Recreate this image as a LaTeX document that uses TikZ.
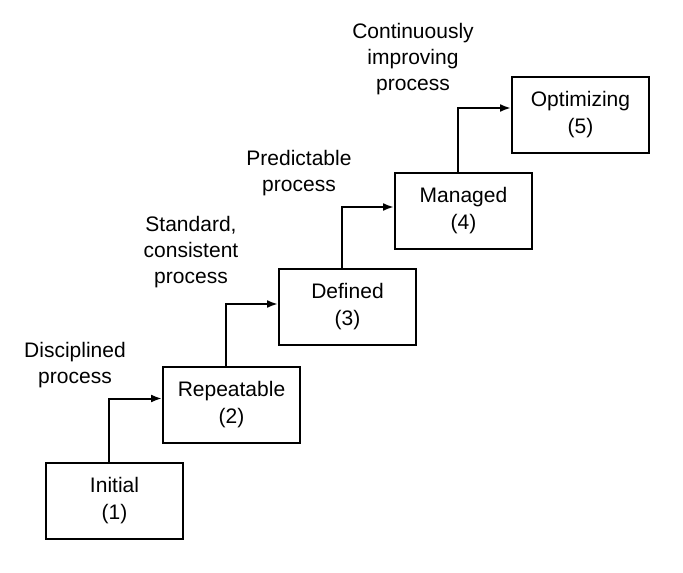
\documentclass[tikz,border=0pt]{standalone}
\usepackage{fontspec}
\setmainfont{Liberation Sans}
\usetikzlibrary{arrows.meta}
\tikzset{
  stagebox/.style={draw, line width=2pt, minimum width=137pt, minimum height=76pt, inner sep=0pt, align=center, font=\fontsize{21}{27}\selectfont},
  lbl/.style={align=center, inner sep=0pt, font=\fontsize{21}{26}\selectfont},
  arr/.style={line width=2pt, -{Latex[length=11pt,width=8pt]}}
}
\begin{document}
\begin{tikzpicture}[x=1pt,y=-1pt]
\useasboundingbox (0,0) rectangle (683,573);
\node[stagebox] (b1) at (114.5,501) {Initial\\(1)};
\node[stagebox] (b2) at (231.5,404.5) {Repeatable\\(2)};
\node[stagebox] (b3) at (347.5,307) {Defined\\(3)};
\node[stagebox] (b4) at (463.5,210.5) {Managed\\(4)};
\node[stagebox] (b5) at (580.5,114.5) {Optimizing\\(5)};
\draw[arr] ([xshift=64pt]b1.north west) |- ([yshift=6pt]b2.west);
\draw[arr] ([xshift=64pt]b2.north west) |- ([yshift=3pt]b3.west);
\draw[arr] ([xshift=64pt]b3.north west) |- ([yshift=3.5pt]b4.west);
\draw[arr] ([xshift=64pt]b4.north west) |- ([yshift=6.5pt]b5.west);
\node[lbl] (l1) at (75,365) {Disciplined\\process};
\node[lbl] (l2) at (191,252) {Standard,\\consistent\\process};
\node[lbl] (l3) at (299,173) {Predictable\\process};
\node[lbl] (l4) at (413,59) {Continuously\\improving\\process};
\end{tikzpicture}
\end{document}
